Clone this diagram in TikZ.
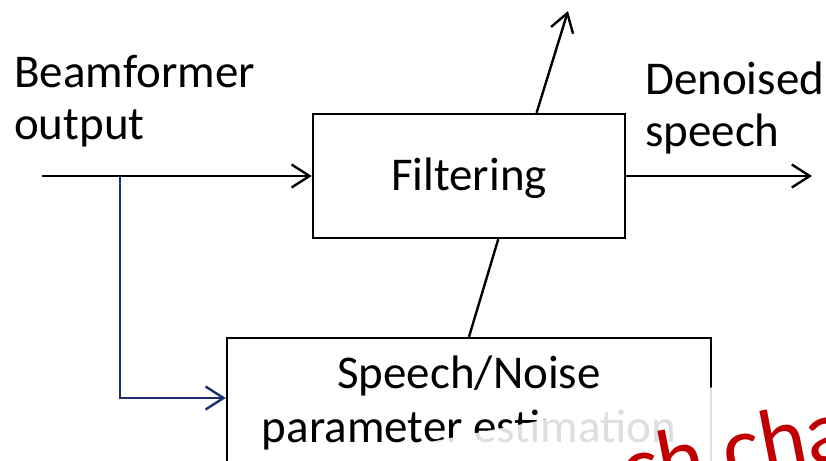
\documentclass[tikz,border=0pt]{standalone}
\usepackage{fontspec}
\setmainfont{Carlito}
\usetikzlibrary{arrows.meta,calc}
\definecolor{navyline}{HTML}{1B2F6E}
\definecolor{notered}{HTML}{C00000}
\begin{document}
\begin{tikzpicture}[x=1pt,y=-1pt,
  lbl/.style={font=\fontsize{47}{52}\selectfont, inner sep=0pt},
  block/.style={draw, line width=2.4pt, rectangle, inner sep=0pt, lbl},
  plainwire/.style={line width=2.4pt},
  wire/.style={line width=2.4pt, -{Straight Barb[length=18pt,width=23pt]}},
  tapwire/.style={wire, draw=navyline},
  veil/.style={fill=white, opacity=0.87},
  note/.style={font=\fontsize{88}{92}\selectfont, text=notered, inner sep=0pt}
]
\useasboundingbox (0,0) rectangle (826,460);
\clip (0,0) rectangle (826,460);

% processing blocks
\node[block, minimum width=312pt, minimum height=124pt, text depth=4pt] (filt) at (469,176) {Filtering};
\node[block, minimum width=484pt, minimum height=129pt, align=center,
      font=\fontsize{47}{54}\selectfont] (est) at (469,402.5)
  {Speech/Noise\\parameter estimation};

% signal labels (base anchor sits on the last line)
\node[lbl, anchor=base west, align=left] (inlbl) at (14,139) {Beamformer\\output};
\node[lbl, anchor=base west, align=left] (outlbl) at (645,146) {Denoised\\speech};

% connectors
\coordinate (src) at (42,176);
\coordinate (tap) at (120,176);
\coordinate (sink) at (812,176);
\coordinate (up) at (568,11);
\draw[wire] (src) -- (filt.west);
\draw[tapwire] (tap) |- ([yshift=4.5pt]est.west);
\draw[wire] (filt.east) -- (sink);
\draw[plainwire] (est.north) -- ($(filt.south west)!0.593!(filt.south east)$);
\draw[wire] ($(filt.north west)!0.715!(filt.north east)$) -- (up);

% tilted annotation with its translucent backing
\fill[veil] (316,464) -- (905,350) -- (962,645) -- (373,759) -- cycle;
\node[note, anchor=base west, rotate=11] (remark) at (456,533) {Speech cha};
\end{tikzpicture}
\end{document}
